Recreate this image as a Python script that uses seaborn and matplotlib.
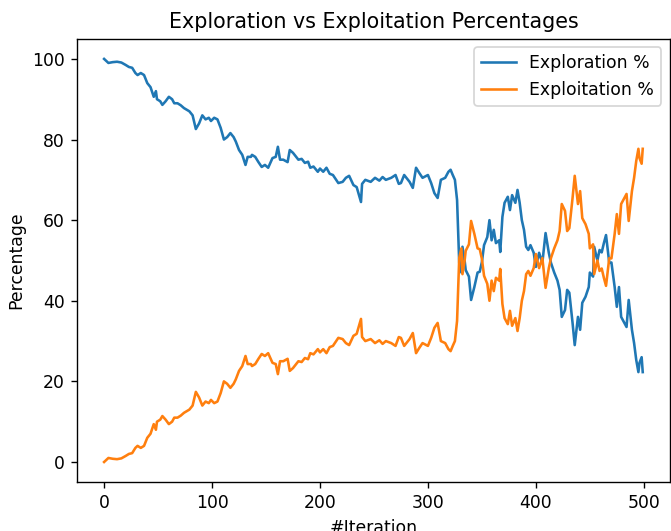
import matplotlib
matplotlib.use("Agg")
import matplotlib.pyplot as plt
import seaborn as sns

# values
iterations = [
    0, 4, 8, 12, 16, 20, 23, 26, 29, 31, 34, 37, 40, 43, 46, 48, 49, 52, 54, 57,
    60, 63, 65, 68, 71, 74, 79, 82, 85, 88, 91, 94, 97, 99, 102, 105, 108, 111, 114, 117,
    120, 122, 125, 128, 131, 133, 136, 137, 140, 143, 146, 149, 152, 156, 159, 161, 163, 166, 170, 172,
    175, 180, 183, 186, 189, 191, 194, 198, 200, 203, 206, 209, 212, 217, 221, 224, 227, 231, 234, 238,
    239, 242, 247, 251, 255, 258, 261, 266, 270, 273, 275, 278, 283, 286, 289, 292, 295, 300, 303, 306,
    309, 312, 316, 319, 321, 323, 325, 327, 328, 329, 331, 332, 334, 335, 338, 340, 343, 346, 348, 350,
    352, 355, 357, 359, 361, 363, 366, 367, 369, 371, 374, 376, 378, 381, 383, 385, 387, 389, 391, 393,
    395, 398, 400, 403, 406, 409, 412, 414, 417, 420, 422, 424, 427, 429, 431, 434, 436, 439, 441, 443,
    446, 449, 450, 453, 454, 457, 459, 461, 463, 465, 468, 470, 473, 475, 477, 479, 482, 484, 486, 489,
    491, 493, 495, 496, 498, 499,
]

exploration = [
    100, 99, 99.2, 99.3, 99.1, 98.5, 98, 97.8, 96.5, 96, 96.5, 96, 94, 93, 90.6, 92, 90, 89.5, 88.6, 89.5,
    90.6, 90, 89, 89, 88.5, 87.8, 87, 86, 82.6, 84, 86, 85, 85.4, 84.6, 85.4, 85, 82.9, 80, 80.6, 81.6,
    80.6, 79.5, 77.4, 76.2, 73.7, 75.7, 75.7, 76.2, 75.7, 74.4, 73.2, 73.7, 73, 75.4, 75.7, 78.2, 75, 75, 74.4, 77.4,
    76.7, 75, 75.2, 74.2, 74.5, 73, 73.3, 72, 72.8, 72, 73, 71.5, 71.2, 69.2, 69.5, 70.5, 71, 68.7, 68.2, 64.5,
    69, 70, 69.5, 70.5, 69.8, 70.7, 70, 70.5, 71.2, 69, 69.2, 71.2, 69.5, 68, 73, 71.7, 70.5, 71.2, 69.2, 66.7,
    65.5, 70, 70.5, 72, 72.5, 71.2, 70, 65, 56.8, 49.4, 47, 53.4, 50, 47.6, 46, 40.2, 43.4, 47, 47.2, 49.6,
    53.8, 55.8, 60, 55, 57.6, 54.3, 55, 52.1, 60.8, 64.3, 65.8, 62.5, 66.2, 64.3, 67.5, 64.3, 60, 57.6, 53.4, 52.6,
    53.8, 51.9, 48.4, 51.9, 49.4, 56.8, 51.9, 49.4, 47, 45, 42.7, 36, 37.7, 42.7, 42, 34.5, 29, 36, 32.8, 39.5,
    41, 43.4, 47, 46, 53.4, 50, 52.6, 52, 54.3, 56.3, 49.4, 49.5, 43.4, 38.5, 43.4, 36, 34.5, 33.5, 40.2, 32.8,
    29.5, 25.3, 22.3, 24.6, 26, 22.3,
]

exploitation = [
    0, 1, 0.8, 0.7, 0.9, 1.5, 2, 2.2, 3.5, 4, 3.5, 4, 6, 7, 9.4, 8, 10, 10.5, 11.4, 10.5,
    9.4, 10, 11, 11, 11.5, 12.2, 13, 14, 17.4, 16, 14, 15, 14.6, 15.4, 14.6, 15, 17.1, 20, 19.4, 18.4,
    19.4, 20.5, 22.6, 23.8, 26.3, 24.3, 24.3, 23.8, 24.3, 25.6, 26.8, 26.3, 27, 24.6, 24.3, 21.8, 25, 25, 25.6, 22.6,
    23.3, 25, 24.8, 25.8, 25.5, 27, 26.7, 28, 27.2, 28, 27, 28.5, 28.8, 30.8, 30.5, 29.5, 29, 31.3, 31.8, 35.5,
    31, 30, 30.5, 29.5, 30.2, 29.3, 30, 29.5, 28.8, 31, 30.8, 28.8, 30.5, 32, 27, 28.3, 29.5, 28.8, 30.8, 33.3,
    34.5, 30, 29.5, 28, 27.5, 28.8, 30, 35, 43.2, 50.6, 53, 46.6, 50, 52.4, 54, 59.8, 56.6, 53, 52.8, 50.4,
    46.2, 44.2, 40, 45, 42.4, 45.7, 45, 47.9, 39.2, 35.7, 34.2, 37.5, 33.8, 35.7, 32.5, 35.7, 40, 42.4, 46.6, 47.4,
    46.2, 48.1, 51.6, 48.1, 50.6, 43.2, 48.1, 50.6, 53, 55, 57.3, 64, 62.3, 57.3, 58, 65.5, 71, 64, 67.2, 60.5,
    59, 56.6, 53, 54, 46.6, 50, 47.4, 48, 45.7, 43.7, 50.6, 50.5, 56.6, 61.5, 56.6, 64, 65.5, 66.5, 59.8, 67.2,
    70.5, 74.7, 77.7, 75.4, 74, 77.7,
]

# the reference was rendered at a larger scale, so use a higher dpi
DPI = 124
fig, ax = plt.subplots(figsize=(671 / DPI, 531 / DPI), dpi=DPI)
sns.lineplot(x=iterations, y=exploration, label="Exploration %", color="#1f77b4", ax=ax)
sns.lineplot(x=iterations, y=exploitation, label="Exploitation %", color="#ff7f0e", ax=ax)

ax.set_title("Exploration vs Exploitation Percentages")
ax.set_xlabel("#Iteration")
ax.set_ylabel("Percentage")
ax.legend(loc="upper right")

plt.subplots_adjust(left=0.115, right=0.998, top=0.927, bottom=0.092)
plt.savefig("out.png", dpi=DPI)
plt.close()
